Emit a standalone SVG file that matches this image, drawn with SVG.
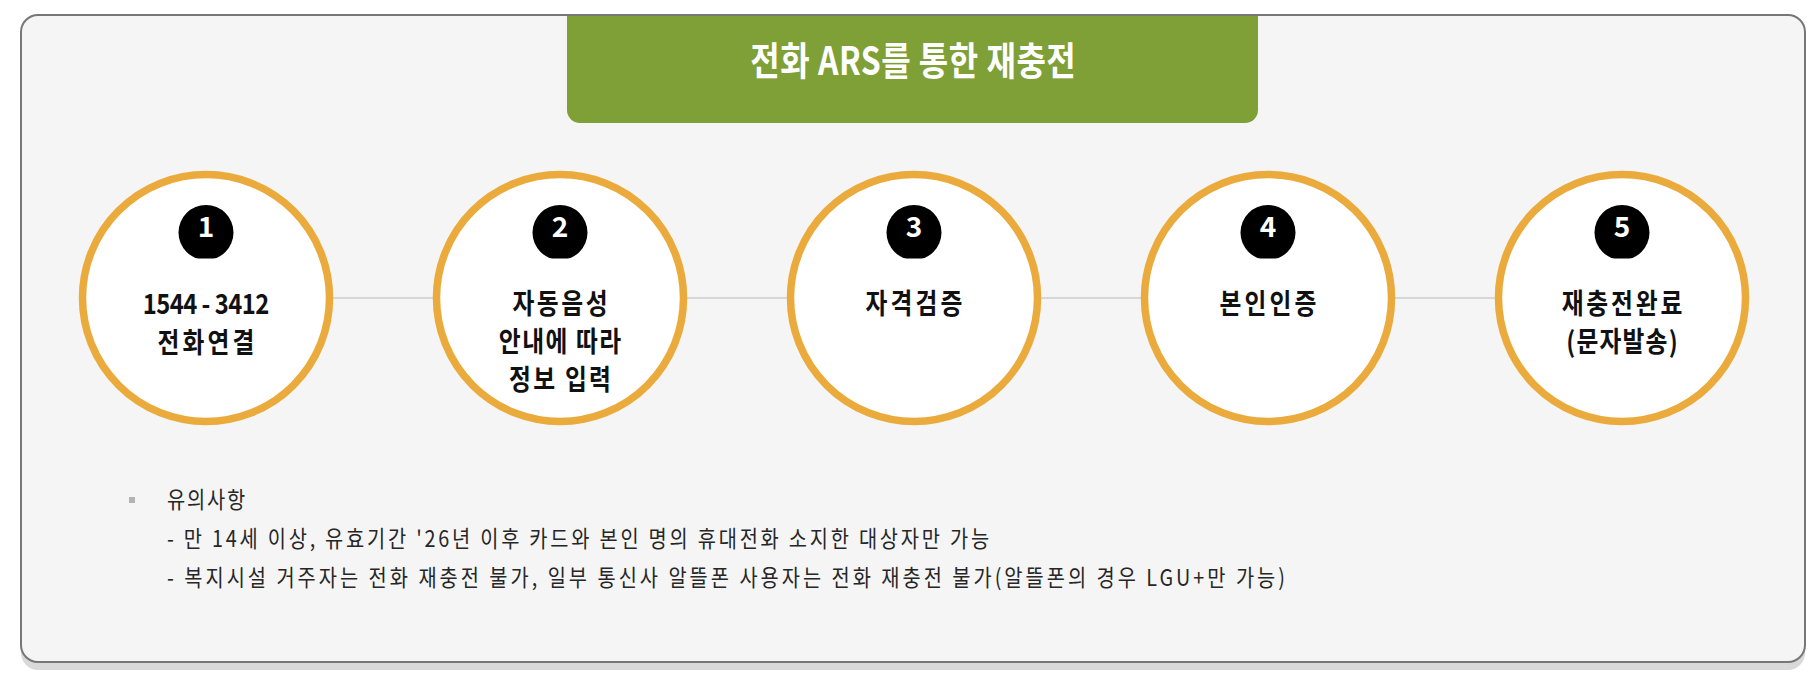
<svg xmlns="http://www.w3.org/2000/svg" width="1814" height="678" viewBox="0 0 1814 678">
  <style>
    .ko { font-family: "Noto Sans CJK KR", "Noto Sans", sans-serif; }
    .node-ring { fill: #ffffff; stroke: #eaab3c; stroke-width: 7.5; }
    .badge { fill: #000000; }
    .badge-num { font-family: "Noto Sans CJK KR", "Noto Sans", sans-serif; font-size: 28px; font-weight: 700; fill: #ffffff; text-anchor: middle; }
    .label { font-family: "Noto Sans CJK KR", "Noto Sans", sans-serif; font-size: 28px; font-weight: 700; fill: #111111; text-anchor: middle; }
    .note { font-family: "Noto Sans CJK KR", "Noto Sans", sans-serif; font-size: 23px; font-weight: 400; fill: #262626; }
    .conn { stroke: #cccccc; stroke-width: 1.6; fill: none; }
  </style>
  <defs>
    <clipPath id="badgeClip" clipPathUnits="userSpaceOnUse">
      <rect x="0" y="0" width="1814" height="258.5"/>
    </clipPath>
  </defs>

  <g id="frame">
    <rect x="21" y="23" width="1784" height="647" rx="17" ry="17" fill="#d9d9d9"/>
    <rect x="21" y="15" width="1784" height="647" rx="17" ry="17" fill="#f5f5f5" stroke="#777777" stroke-width="2"/>
  </g>

  <g id="header">
    <path d="M567 16 H1258 V110 A13 13 0 0 1 1245 123 H580 A13 13 0 0 1 567 110 Z" fill="#7f9f37"/>
    <g transform="translate(913,75) scale(0.82,1)">
      <text class="ko" x="0" y="0" font-size="39" font-weight="700" fill="#ffffff" text-anchor="middle" textLength="397" lengthAdjust="spacing">전화 ARS를 통한 재충전</text>
    </g>
  </g>

  <g id="connectors">
    <line class="conn" x1="333" y1="298" x2="433" y2="298"/>
    <line class="conn" x1="687" y1="298" x2="787" y2="298"/>
    <line class="conn" x1="1041" y1="298" x2="1141" y2="298"/>
    <line class="conn" x1="1395" y1="298" x2="1495" y2="298"/>
  </g>

  <g id="node1">
    <circle class="node-ring" cx="206" cy="298" r="123.5"/>
    <circle class="badge" cx="206" cy="232.5" r="27.5" clip-path="url(#badgeClip)"/>
    <text class="badge-num" x="206" y="237">1</text>
    <g transform="translate(206,314) scale(0.85,1)"><text class="label" x="0" y="0" textLength="149" lengthAdjust="spacing">1544 - 3412</text></g>
    <g transform="translate(206,353) scale(0.85,1)"><text class="label" x="0" y="0" textLength="114" lengthAdjust="spacing">전화연결</text></g>
  </g>

  <g id="node2">
    <circle class="node-ring" cx="560" cy="298" r="123.5"/>
    <circle class="badge" cx="560" cy="232.5" r="27.5" clip-path="url(#badgeClip)"/>
    <text class="badge-num" x="560" y="237">2</text>
    <g transform="translate(560,314) scale(0.85,1)"><text class="label" x="0" y="0" textLength="112" lengthAdjust="spacing">자동음성</text></g>
    <g transform="translate(560,352) scale(0.85,1)"><text class="label" x="0" y="0" textLength="144" lengthAdjust="spacing">안내에 따라</text></g>
    <g transform="translate(560,390) scale(0.85,1)"><text class="label" x="0" y="0" textLength="120" lengthAdjust="spacing">정보 입력</text></g>
  </g>

  <g id="node3">
    <circle class="node-ring" cx="914" cy="298" r="123.5"/>
    <circle class="badge" cx="914" cy="232.5" r="27.5" clip-path="url(#badgeClip)"/>
    <text class="badge-num" x="914" y="237">3</text>
    <g transform="translate(914,314) scale(0.85,1)"><text class="label" x="0" y="0" textLength="114" lengthAdjust="spacing">자격검증</text></g>
  </g>

  <g id="node4">
    <circle class="node-ring" cx="1268" cy="298" r="123.5"/>
    <circle class="badge" cx="1268" cy="232.5" r="27.5" clip-path="url(#badgeClip)"/>
    <text class="badge-num" x="1268" y="237">4</text>
    <g transform="translate(1268,314) scale(0.85,1)"><text class="label" x="0" y="0" textLength="114" lengthAdjust="spacing">본인인증</text></g>
  </g>

  <g id="node5">
    <circle class="node-ring" cx="1622" cy="298" r="123.5"/>
    <circle class="badge" cx="1622" cy="232.5" r="27.5" clip-path="url(#badgeClip)"/>
    <text class="badge-num" x="1622" y="237">5</text>
    <g transform="translate(1622,314) scale(0.85,1)"><text class="label" x="0" y="0" textLength="142" lengthAdjust="spacing">재충전완료</text></g>
    <g transform="translate(1622,352) scale(0.85,1)"><text class="label" x="0" y="0" textLength="131" lengthAdjust="spacing">(문자발송)</text></g>
  </g>

  <g id="notes">
    <rect x="129" y="497" width="6" height="6" fill="#b3b3b3"/>
    <g transform="translate(167,508) scale(0.86,1)"><text class="note" x="0" y="0" textLength="91" lengthAdjust="spacing">유의사항</text></g>
    <g transform="translate(167,547) scale(0.86,1)"><text class="note" x="0" y="0" textLength="956" lengthAdjust="spacing">- 만 14세 이상, 유효기간 '26년 이후 카드와 본인 명의 휴대전화 소지한 대상자만 가능</text></g>
    <g transform="translate(167,586) scale(0.86,1)"><text class="note" x="0" y="0" textLength="1300" lengthAdjust="spacing">- 복지시설 거주자는 전화 재충전 불가, 일부 통신사 알뜰폰 사용자는 전화 재충전 불가(알뜰폰의 경우 LGU+만 가능)</text></g>
  </g>
</svg>
